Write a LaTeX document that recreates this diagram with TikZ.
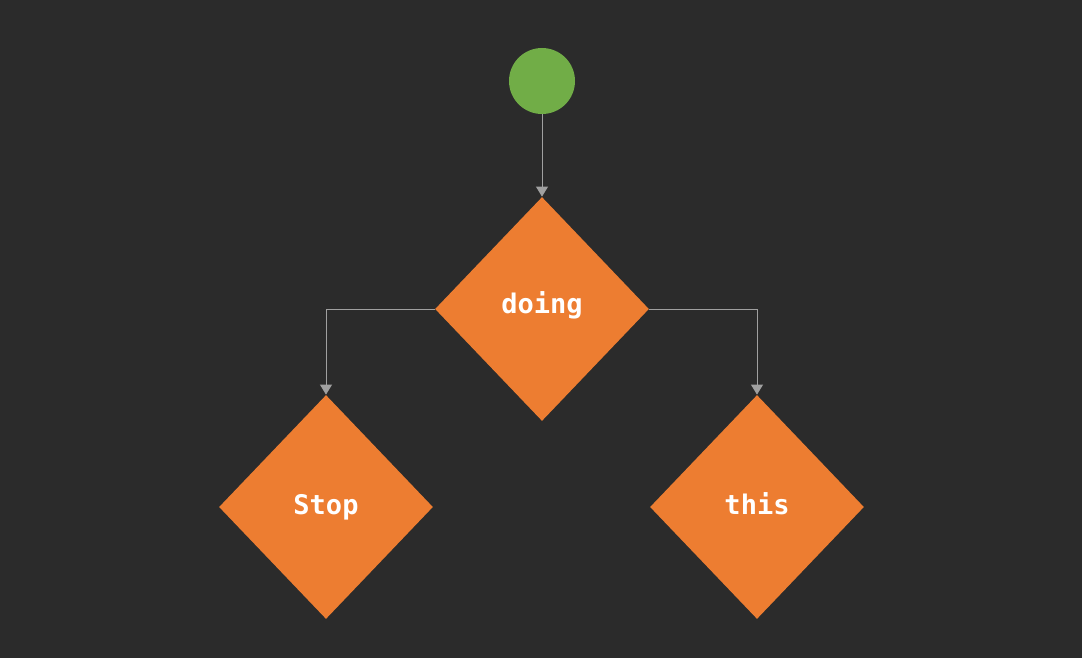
\documentclass[tikz,border=0pt]{standalone}
\usepackage{fontspec}
\setmonofont{DejaVu Sans Mono}
\usetikzlibrary{shapes.geometric,arrows.meta}
\definecolor{bgc}{HTML}{2B2B2B}
\definecolor{startc}{HTML}{71AD47}
\definecolor{decc}{HTML}{ED7D31}
\definecolor{linec}{HTML}{A0A0A0}
\tikzset{
  startdot/.style={circle,fill=startc,draw=none,minimum size=33pt,inner sep=0pt},
  decision/.style={diamond,fill=decc,draw=none,inner sep=0pt,minimum width=107pt,minimum height=112pt,text=white,font=\ttfamily\bfseries\fontsize{13.5pt}{16pt}\selectfont,text height=10pt,text depth=2.5pt},
  conn/.style={draw=linec,line width=0.5pt,-{Triangle[width=6pt,length=5pt]},color=linec}
}
\begin{document}
\begin{tikzpicture}[x=0.5pt,y=-0.5pt]
\fill[bgc] (0,0) rectangle (1082,658);
\useasboundingbox (0,0) rectangle (1082,658);
\node[startdot] (start) at (542,81) {};
\node[decision,text depth=6pt] (doing) at (542,309) {doing};
\node[decision] (stop) at (326,507) {Stop};
\node[decision] (this) at (757,507) {this};
\draw[conn] (start) -- (doing.north);
\draw[conn] (doing.west) -| (stop.north);
\draw[conn] (doing.east) -| (this.north);
\end{tikzpicture}
\end{document}
